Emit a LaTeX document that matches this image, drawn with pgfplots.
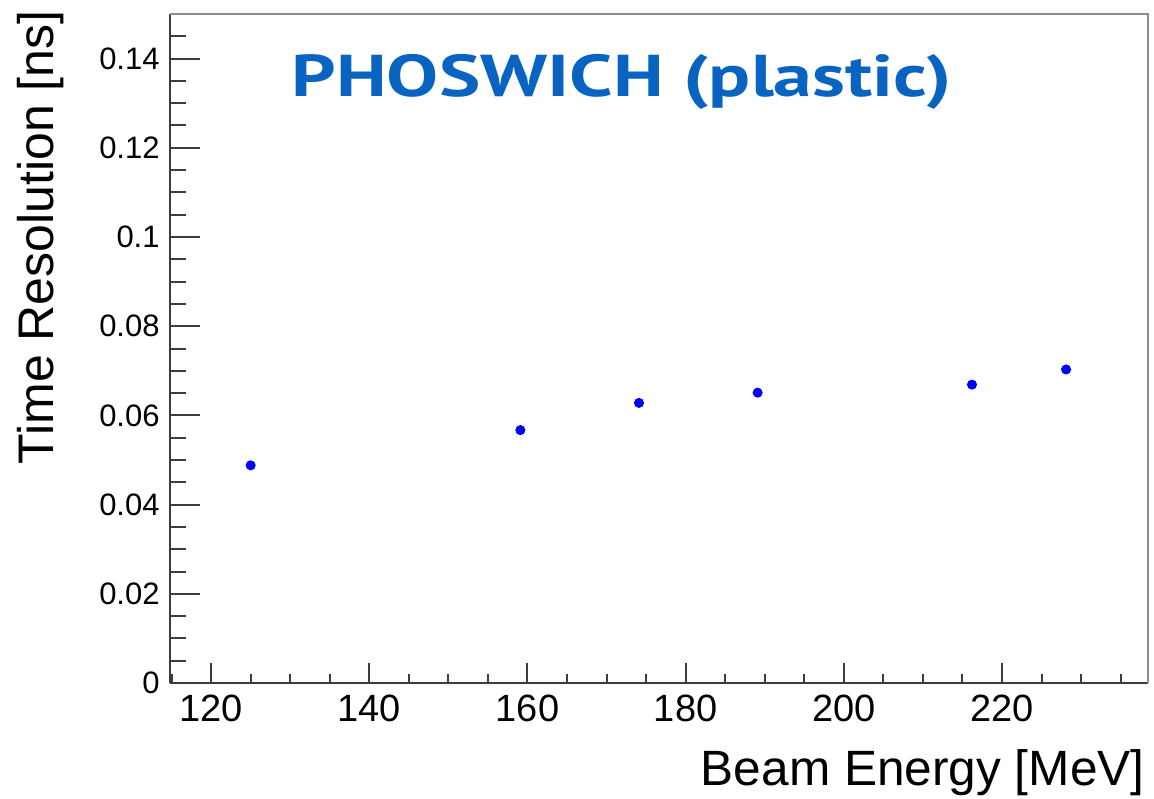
\documentclass[border=0pt]{standalone}
\usepackage{fontspec}
\setmainfont{Liberation Sans}
\newfontfamily\titlefont{PT Sans}
\usepackage{graphicx}
\usepackage{pgfplots}
\pgfplotsset{compat=1.18}
\definecolor{titleblue}{RGB}{8,100,192}
\definecolor{framedark}{RGB}{60,60,60}
\definecolor{framelight}{RGB}{140,140,140}
\begin{document}
\begin{tikzpicture}
\useasboundingbox (-85pt,-57.5pt) rectangle (492pt,341.5pt);
\begin{axis}[
  name=ax,
  scale only axis,
  width=489pt, height=334.5pt,
  xmin=114.8, xmax=238.46,
  ymin=0, ymax=0.15,
  axis x line*=bottom,
  axis y line*=left,
  axis line style={framedark, line width=1.4pt},
  tick align=inside,
  xtick={120,140,...,220},
  ytick={0,0.02,...,0.14},
  minor xtick={115,120,...,235},
  minor ytick={0,0.005,...,0.1451},
  tick style={framedark, line width=1pt},
  xtick style={/pgfplots/major tick length=10pt, /pgfplots/minor tick length=4.5pt},
  ytick style={/pgfplots/major tick length=15pt, /pgfplots/minor tick length=8pt},
  /pgf/number format/assume math mode=true,
  yticklabel style={/pgf/number format/fixed, /pgf/number format/precision=2, font=\fontsize{15.5}{18}\selectfont, inner sep=0pt, xshift=-5pt},
  xticklabel style={font=\fontsize{19}{22}\selectfont, inner sep=0pt, yshift=-6pt},
  clip=false,
]
\addplot[only marks, mark=*, mark size=2.3pt, color=blue] coordinates {
  (125.0,0.0488)
  (159.1,0.0567)
  (174.1,0.0628)
  (189.1,0.0651)
  (216.2,0.0669)
  (228.1,0.0703)
};
\draw[framelight, line width=1.2pt] (rel axis cs:0,1) -- (rel axis cs:1,1) -- (rel axis cs:1,0);
\node[anchor=base, text=titleblue, inner sep=0pt, font=\titlefont\bfseries\fontsize{29.5}{34}\selectfont] at (rel axis cs:0.462,0.877) {\scalebox{1.32}[1]{PHOSWICH (plastic)}};
\end{axis}
\node[rotate=90, anchor=south east, inner sep=0pt, font=\fontsize{25}{30}\selectfont] at ([xshift=-53pt,yshift=2pt]ax.north west) {Time Resolution [ns]};
\node[anchor=base east, inner sep=0pt, font=\fontsize{24.8}{30}\selectfont] at ([xshift=-1.5pt,yshift=-51pt]ax.south east) {Beam Energy [MeV]};
\end{tikzpicture}
\end{document}
